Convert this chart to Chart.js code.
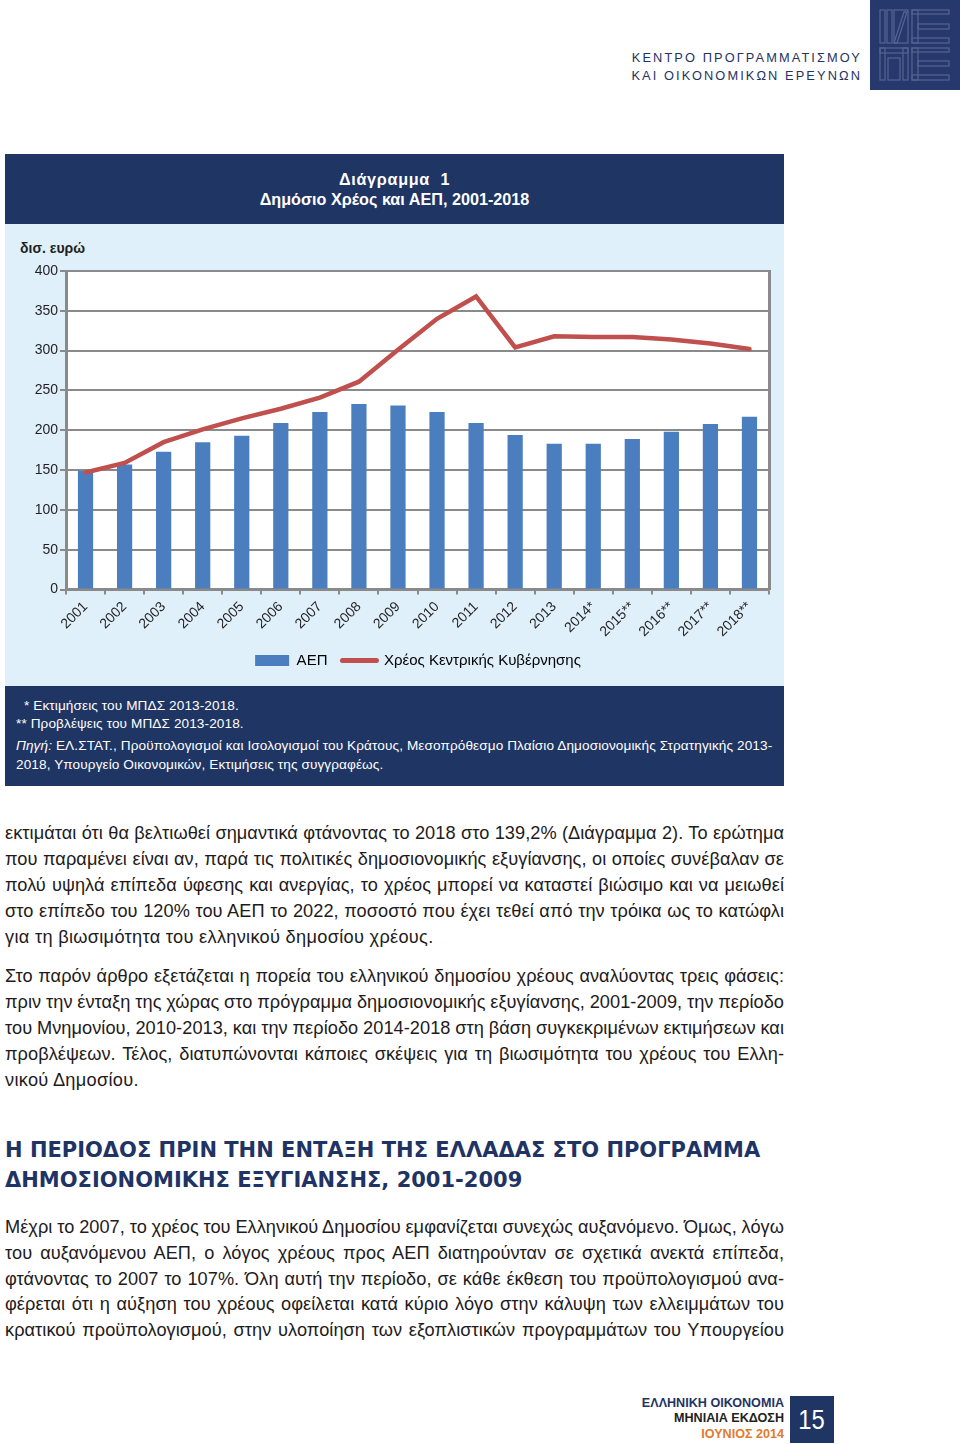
<!DOCTYPE html>
<html>
<head>
<meta charset="utf-8">
<script src="https://cdn.jsdelivr.net/npm/chart.js@4"></script>
<style>
  html, body { margin:0; padding:0; background:#fff; }
  body { width:960px; height:1444px; position:relative; overflow:hidden; font-family:"Liberation Sans", Arial, sans-serif; color:#231f20; }
  .abs { position:absolute; }
  .hdr { left:622px; width:240px; font-size:12.8px; letter-spacing:2.1px; color:#1f3464; text-align:right; white-space:nowrap; }
  .logo { left:870px; top:0; width:90px; height:90px; background:#27386c; }
  .navy { background:#1f3564; }
  .title { left:5px; width:779px; text-align:center; color:#fff; font-weight:bold; font-size:16.2px; white-space:nowrap; }
  .fn { color:#fff; font-size:13.6px; letter-spacing:0.1px; white-space:nowrap; }
  .body { left:5px; width:779px; font-size:18.2px; letter-spacing:0.05px; line-height:26px; color:#1e1b1c; }
  .body span { display:block; white-space:nowrap; text-align:justify; text-align-last:justify; word-spacing:-2px; }
  .body span.last { text-align-last:left; word-spacing:0; letter-spacing:0.3px; }
  .h2 { left:5px; width:790px; font-family:"DejaVu Sans", sans-serif; font-weight:bold; font-size:21px; line-height:30px; color:#1f3464; white-space:nowrap; }
  .ft { right:176px; text-align:right; font-weight:bold; font-size:12.6px; white-space:nowrap; }
</style>
</head>
<body>

<div class="abs hdr" style="top:50px;">ΚΕΝΤΡΟ ΠΡΟΓΡΑΜΜΑΤΙΣΜΟΥ</div>
<div class="abs hdr" style="top:68px;">ΚΑΙ ΟΙΚΟΝΟΜΙΚΩΝ ΕΡΕΥΝΩΝ</div>
<div class="abs logo">
  <svg width="90" height="90" viewBox="0 0 90 90">
    <g fill="none" stroke="#52628f" stroke-width="1.3">
      <rect x="10" y="10" width="5" height="33"/>
      <rect x="17" y="10" width="5" height="33"/>
      <path d="M24 43 L34 12 L37 12 L27 43 Z"/>
      <rect x="24" y="10" width="14" height="33"/>
      <rect x="42" y="10" width="37" height="4"/>
      <rect x="42" y="10" width="6" height="33"/>
      <rect x="48" y="24" width="31" height="5"/>
      <rect x="42" y="38" width="37" height="5"/>
      <rect x="10" y="48" width="28" height="5"/>
      <rect x="10" y="48" width="5" height="32"/>
      <rect x="33" y="48" width="5" height="32"/>
      <rect x="18" y="58" width="12" height="22"/>
      <rect x="42" y="48" width="37" height="4"/>
      <rect x="42" y="48" width="6" height="32"/>
      <rect x="48" y="61" width="31" height="5"/>
      <rect x="42" y="75" width="37" height="5"/>
    </g>
  </svg>
</div>

<!-- chart box -->
<div class="abs navy" style="left:5px; top:154px; width:779px; height:70px;"></div>
<div class="abs title" style="top:170px; letter-spacing:0.7px;">Διάγραμμα&nbsp;&nbsp;1</div>
<div class="abs title" style="top:190px;">Δημόσιο Χρέος και ΑΕΠ, 2001-2018</div>
<div class="abs" style="left:5px; top:224px; width:779px; height:462px; background:#dff0fb;"></div>
<div class="abs" style="left:20px; top:240px; font-size:14px; font-weight:bold; color:#231f20;">δισ. ευρώ</div>
<canvas id="c" class="abs" width="826" height="462" style="left:5px; top:224px;"></canvas>
<div class="abs navy" style="left:5px; top:686px; width:779px; height:100px;"></div>
<div class="abs fn" style="left:24px; top:698px;">* Εκτιμήσεις του ΜΠΔΣ 2013-2018.</div>
<div class="abs fn" style="left:16px; top:716px;">** Προβλέψεις του ΜΠΔΣ 2013-2018.</div>
<div class="abs fn" style="left:16px; top:738px;"><i>Πηγή:</i> ΕΛ.ΣΤΑΤ., Προϋπολογισμοί και Ισολογισμοί του Κράτους, Μεσοπρόθεσμο Πλαίσιο Δημοσιονομικής Στρατηγικής 2013-</div>
<div class="abs fn" style="left:16px; top:757px;">2018, Υπουργείο Οικονομικών, Εκτιμήσεις της συγγραφέως.</div>

<!-- body text -->
<div class="abs body" style="top:820px;">
  <span>εκτιμάται ότι θα βελτιωθεί σημαντικά φτάνοντας το 2018 στο 139,2% (Διάγραμμα 2). Το ερώτημα</span>
  <span>που παραμένει είναι αν, παρά τις πολιτικές δημοσιονομικής εξυγίανσης, οι οποίες συνέβαλαν σε</span>
  <span>πολύ υψηλά επίπεδα ύφεσης και ανεργίας, το χρέος μπορεί να καταστεί βιώσιμο και να μειωθεί</span>
  <span>στο επίπεδο του 120% του ΑΕΠ το 2022, ποσοστό που έχει τεθεί από την τρόικα ως το κατώφλι</span>
  <span class="last">για τη βιωσιμότητα του ελληνικού δημοσίου χρέους.</span>
</div>
<div class="abs body" style="top:963px;">
  <span>Στο παρόν άρθρο εξετάζεται η πορεία του ελληνικού δημοσίου χρέους αναλύοντας τρεις φάσεις:</span>
  <span>πριν την ένταξη της χώρας στο πρόγραμμα δημοσιονομικής εξυγίανσης, 2001-2009, την περίοδο</span>
  <span>του Μνημονίου, 2010-2013, και την περίοδο 2014-2018 στη βάση συγκεκριμένων εκτιμήσεων και</span>
  <span>προβλέψεων. Τέλος, διατυπώνονται κάποιες σκέψεις για τη βιωσιμότητα του χρέους του Ελλη-</span>
  <span class="last">νικού Δημοσίου.</span>
</div>
<div class="abs h2" style="top:1135px;">Η ΠΕΡΙΟΔΟΣ ΠΡΙΝ ΤΗΝ ΕΝΤΑΞΗ ΤΗΣ ΕΛΛΑΔΑΣ ΣΤΟ ΠΡΟΓΡΑΜΜΑ<br>ΔΗΜΟΣΙΟΝΟΜΙΚΗΣ ΕΞΥΓΙΑΝΣΗΣ, 2001-2009</div>
<div class="abs body" style="top:1215px; line-height:25.8px;">
  <span>Μέχρι το 2007, το χρέος του Ελληνικού Δημοσίου εμφανίζεται συνεχώς αυξανόμενο. Όμως, λόγω</span>
  <span>του αυξανόμενου ΑΕΠ, ο λόγος χρέους προς ΑΕΠ διατηρούνταν σε σχετικά ανεκτά επίπεδα,</span>
  <span>φτάνοντας το 2007 το 107%. Όλη αυτή την περίοδο, σε κάθε έκθεση του προϋπολογισμού ανα-</span>
  <span>φέρεται ότι η αύξηση του χρέους οφείλεται κατά κύριο λόγο στην κάλυψη των ελλειμμάτων του</span>
  <span>κρατικού προϋπολογισμού, στην υλοποίηση των εξοπλιστικών προγραμμάτων του Υπουργείου</span>
</div>

<!-- footer -->
<div class="abs ft" style="top:1396px; color:#1f3464;">ΕΛΛΗΝΙΚΗ ΟΙΚΟΝΟΜΙΑ</div>
<div class="abs ft" style="top:1411px; color:#231f20;">ΜΗΝΙΑΙΑ ΕΚΔΟΣΗ</div>
<div class="abs ft" style="top:1427px; color:#e07b2e;">ΙΟΥΝΙΟΣ 2014</div>
<div class="abs navy" style="left:790px; top:1396px; width:44px; height:47px; color:#fff; font-size:28px; line-height:47px; text-align:center;"><span style="display:inline-block; transform:scaleX(0.85);">15</span></div>

<script>
const categories = ['2001','2002','2003','2004','2005','2006','2007','2008','2009','2010','2011','2012','2013','2014*','2015**','2016**','2017**','2018**'];
const gdpValues  = [149, 157, 173, 185, 193, 209, 223, 233, 231, 223, 209, 194, 183, 183, 189, 198, 208, 217];
const debtValues = [147, 159, 185, 201, 215, 227, 241, 261, 301, 340, 368, 304, 318, 317, 317, 314, 309, 302];
const yTickValues = [0, 50, 100, 150, 200, 250, 300, 350, 400];
const seriesNames = ['ΑΕΠ', 'Χρέος Κεντρικής Κυβέρνησης'];

Chart.defaults.font.family = '"Liberation Sans", Arial, sans-serif';
Chart.defaults.color = '#231f20';

const plotBg = {
  id: 'plotBg',
  beforeDraw(chart) {
    const { ctx, chartArea: a } = chart;
    ctx.save();
    ctx.fillStyle = '#ffffff';
    ctx.fillRect(a.left, a.top, a.width, a.height);
    ctx.restore();
  }
};

const gridGray = '#8a8a8a';

new Chart(document.getElementById('c'), {
  type: 'bar',
  data: {
    labels: categories,
    datasets: [
      {
        label: seriesNames[0],
        data: gdpValues,
        backgroundColor: '#4a7ebf',
        borderWidth: 0,
        barPercentage: 0.39,
        categoryPercentage: 1.0,
        order: 2
      },
      {
        type: 'line',
        label: seriesNames[1],
        data: debtValues,
        borderColor: '#c0504d',
        backgroundColor: '#c0504d',
        borderWidth: 4.5,
        pointRadius: 0,
        tension: 0,
        borderCapStyle: 'round',
        order: 1
      }
    ]
  },
  options: {
    responsive: false,
    animation: false,
    devicePixelRatio: 1,
    layout: { padding: { top: 47, left: 0, right: 0, bottom: 8 } },
    plugins: {
      tooltip: { enabled: false },
      title: { display: false },
      legend: {
        position: 'bottom',
        labels: {
          usePointStyle: true,
          generateLabels(chart) {
            return chart.data.datasets.map((ds, i) => ({
              text: ds.label,
              fillStyle: ds.type === 'line' ? ds.borderColor : ds.backgroundColor,
              strokeStyle: ds.type === 'line' ? ds.borderColor : ds.backgroundColor,
              lineWidth: ds.type === 'line' ? 5 : 0,
              pointStyle: ds.type === 'line' ? 'line' : 'rect',
              lineCap: 'round',
              hidden: false,
              datasetIndex: i
            }));
          },
          pointStyleWidth: 34,
          boxHeight: 11,
          padding: 15,
          font: { size: 15 },
          color: '#231f20'
        }
      }
    },
    scales: {
      x: {
        offset: true,
        grid: { display: true, drawOnChartArea: false, drawTicks: true, tickLength: 5, color: gridGray, lineWidth: 2 },
        border: { display: true, color: gridGray, width: 2.5 },
        ticks: { minRotation: 45, maxRotation: 45, autoSkip: false, padding: 4, font: { size: 14 }, color: '#231f20' },
        afterFit(scale) { scale.height = 48.5; }
      },
      y: {
        min: 0, max: 400,
        afterBuildTicks(scale) { scale.ticks = yTickValues.map(v => ({ value: v })); },
        grid: { color: gridGray, lineWidth: 2, drawTicks: true, tickLength: 6 },
        border: { display: true, color: gridGray, width: 3 },
        ticks: { padding: 2, font: { size: 14 }, color: '#231f20' },
        afterFit(scale) { scale.width = 61; }
      },
      y2: {
        position: 'right',
        min: 0, max: 400,
        grid: { drawOnChartArea: false, drawTicks: false },
        border: { display: true, color: gridGray, width: 3 },
        ticks: { display: false },
        afterFit(scale) { scale.width = 62; }
      }
    }
  },
  plugins: [plotBg]
});
</script>
</body>
</html>
